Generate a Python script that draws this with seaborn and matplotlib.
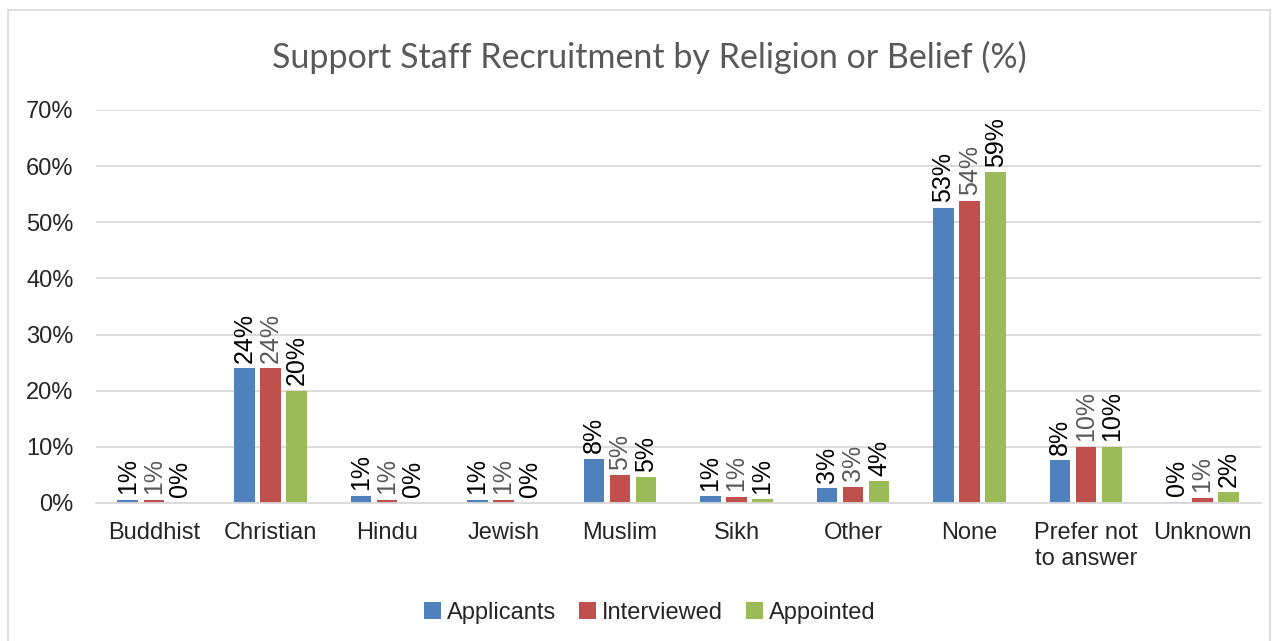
import pandas as pd
import seaborn as sns
import matplotlib.pyplot as plt
from matplotlib.patches import Rectangle

# Chart data
categories = ["Buddhist", "Christian", "Hindu", "Jewish", "Muslim", "Sikh",
              "Other", "None", "Prefer not\nto answer", "Unknown"]
applicants = [0.6, 24.0, 1.3, 0.55, 7.9, 1.2, 2.6, 52.6, 7.6, 0.2]
interviewed = [0.6, 24.0, 0.55, 0.6, 4.9, 1.1, 2.9, 53.8, 10.0, 0.9]
appointed = [0.0, 20.0, 0.0, 0.0, 4.6, 0.7, 3.9, 58.9, 10.0, 1.9]
series = ["Applicants", "Interviewed", "Appointed"]
yticks = [0, 10, 20, 30, 40, 50, 60, 70]

colors = ["#4F81BD", "#C0504D", "#9BBB59"]
label_colors = ["black", "#595959", "black"]

values = [applicants, interviewed, appointed]
df = pd.DataFrame({
    "category": categories * 3,
    "series": [s for s in series for _ in categories],
    "value": [v for vals in values for v in vals],
})

sns.set_style("white")
plt.rcParams["font.family"] = ["Liberation Sans", "DejaVu Sans"]

fig = plt.figure(figsize=(12.79, 6.41), dpi=100)
ax = fig.add_axes([0.0748, 0.2153, 0.911, 0.6131])

sns.barplot(data=df, x="category", y="value", hue="series", palette=colors,
            saturation=1, width=0.67, gap=0.2, ax=ax, linewidth=0)

for i, cont in enumerate(ax.containers):
    ax.bar_label(cont, labels=[f"{v:.0f}%" for v in values[i]], rotation=90,
                 padding=4, fontsize=18, color=label_colors[i])

ax.set_ylim(0, 70)
ax.set_yticks(yticks)
ax.set_yticklabels([f"{t}%" for t in yticks])
ax.set_xlabel("")
ax.set_ylabel("")
ax.yaxis.grid(True, color="#D9D9D9", linewidth=1.3)
ax.set_axisbelow(True)
for s in ["top", "right", "left"]:
    ax.spines[s].set_visible(False)
ax.spines["bottom"].set_color("#D9D9D9")
ax.spines["bottom"].set_linewidth(1.3)
ax.tick_params(axis="y", length=0, pad=16, labelsize=17)
ax.tick_params(axis="x", length=0, pad=14, labelsize=17)

handles, labels = ax.get_legend_handles_labels()
ax.get_legend().remove()
fig.legend(handles, labels, loc="center", bbox_to_anchor=(0.508, 0.044),
           ncol=3, frameon=False, fontsize=17, handlelength=0.7,
           handleheight=0.7, handletextpad=0.25, columnspacing=1.0)

fig.text(0.508, 0.911, "Support Staff Recruitment by Religion or Belief (%)",
         ha="center", va="center", fontsize=24.5, color="#595959",
         family=["Lato", "DejaVu Sans"])

fig.patches.append(Rectangle((8 / 1279, -0.02), 1262 / 1279, 1.02 - 10 / 641,
                             transform=fig.transFigure, fill=False,
                             edgecolor="#D9D9D9", linewidth=1.2))

fig.savefig("out.png", dpi=100)
